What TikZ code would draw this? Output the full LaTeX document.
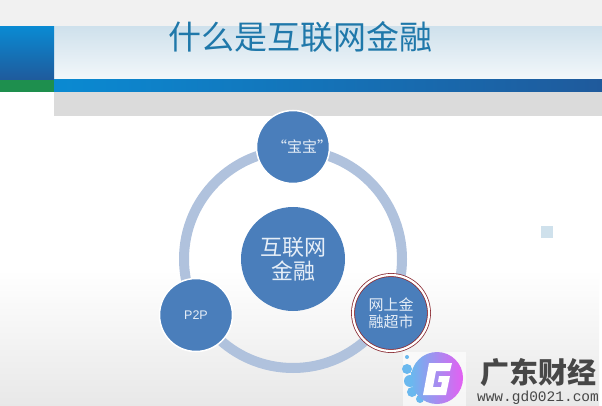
\documentclass[tikz,border=0pt]{standalone}
\usepackage{fontspec}
\usepackage{tikz}
\usetikzlibrary{positioning,shapes}
\setmainfont{Liberation Sans}
\newfontfamily\cjk{Noto Sans CJK SC}
\newfontfamily\urlfont{Liberation Mono}
\definecolor{hubblue}{HTML}{4A7EBB}
\definecolor{ringblue}{HTML}{B0C2DD}
\definecolor{labelblue}{HTML}{E6EEF7}
\definecolor{titleblue}{HTML}{1F78AA}
\definecolor{barleft}{HTML}{0A8AD2}
\definecolor{barright}{HTML}{1F5A9C}
\definecolor{bandblue}{HTML}{CFE1EC}
\definecolor{markred}{HTML}{8C2D35}
\definecolor{logoblue}{HTML}{6AB8EE}
\definecolor{logopink}{HTML}{E45FF2}
\definecolor{stripgreen}{HTML}{1E8F4E}

\begin{document}
\begin{tikzpicture}[x=1pt,y=-1pt]
	\tikzset{topic/.style={circle,fill=hubblue,draw=white,line width=1.5pt,minimum size=73pt,inner sep=0pt,text=labelblue,align=center,font=\cjk\fontsize{15}{17}\selectfont}}
	\tikzset{hub/.style={topic,minimum size=104pt,draw=none,font=\cjk\fontsize{22}{25}\selectfont}}
	\tikzset{marked/.style={draw=markred,line width=0.8pt,double=white,double distance=2.2pt,minimum size=76pt}}
	\tikzset{track/.style={circle,draw=ringblue,line width=10pt,minimum size=218pt,inner sep=0pt}}

	%% Draw slide background
	\useasboundingbox (0,0) rectangle (602,406);
	\fill[white] (0,0) rectangle (602,406);
	\shade[top color=white,bottom color=black!9] (0,270) rectangle (599,406);
	\fill[black!5.5] (0,0) rectangle (602,27);
	\shade[top color=bandblue,bottom color=bandblue!25] (54,27) rectangle (602,80);
	\shade[top color=barleft,bottom color=barright] (0,27) rectangle (54,80);
	\fill[stripgreen] (0,80) rectangle (54,92);
	\shade[left color=barleft,right color=barright] (54,80) rectangle (602,92);
	\fill[black!14] (54,92) rectangle (602,116);
	\fill[bandblue] (541,226) rectangle (553,238);

	\node[text=titleblue,font=\cjk\fontsize{33}{36}\selectfont] (title) at (300,37) {什么是互联网金融};

	%% Draw the ring and its circles
	\node[track] (ring) at (293,259) {};
	\node[hub] (center) at (293,259) {互联网\\[-1pt]金融};
	\node[topic] (bao) at (293,147) {\makebox[0pt]{\hspace{18pt}“宝宝”}};
	\node[topic,font=\fontsize{12.5}{14}\selectfont] (ptp) at (196,315) {P2P};
	\node[topic,marked] (market) at (391,313) {网上金\\融超市};

	%% Draw logo
	\fill[white,opacity=0.6] (403,352) rectangle (466,406);
	\foreach \bx/\by/\br in {407/357/2,407/369/5,410/381/6,412/392/5,420/399/4}
		\fill[logoblue] (\bx,\by) circle (\br pt);
	\shade[left color=logoblue,right color=logopink] (437,378) circle (26pt);
	\fill[white] (429,363) -- (452,363) -- (450,371) -- (436,371) -- (433,387) -- (441,387) -- (442,382) -- (438,382) -- (439,376) -- (450,376) -- (446,395) -- (423,395) -- cycle;
	\node[text=black!72,font=\cjk\bfseries\fontsize{29}{30}\selectfont,inner sep=0pt] (brand) at (538,373) {广东财经};
	\node[text=black!72,font=\urlfont\fontsize{14.5}{16}\selectfont,inner sep=0pt,below=3pt of brand] (site) {www.gd0021.com};
\end{tikzpicture}
\end{document}
